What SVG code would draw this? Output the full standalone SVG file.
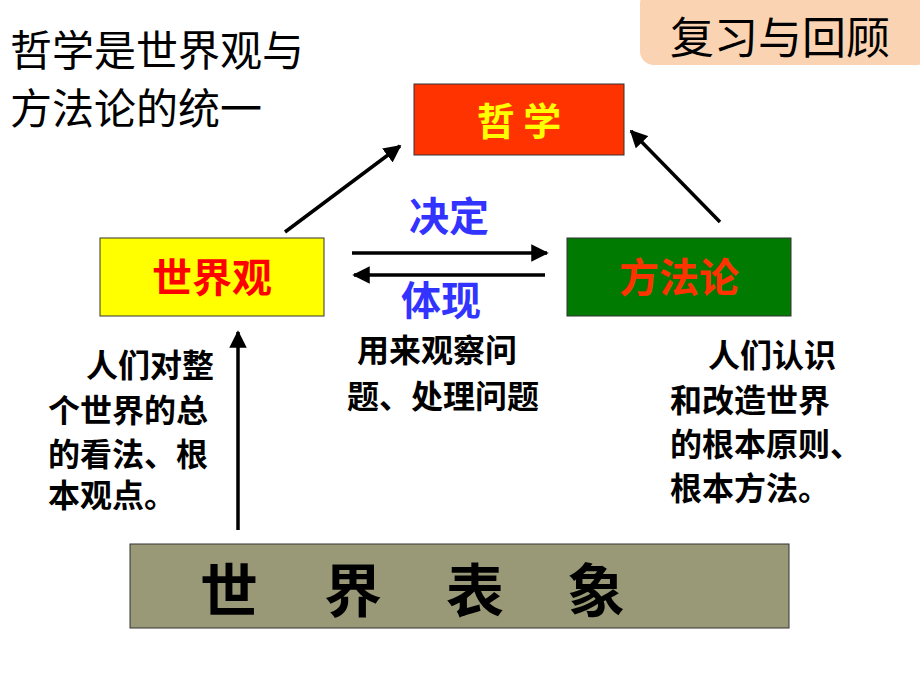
<svg xmlns="http://www.w3.org/2000/svg" width="920" height="690" viewBox="0 0 920 690">
<style>
text{font-family:"Noto Sans CJK SC","Liberation Sans",sans-serif;}
.b{font-weight:bold;}
.box{stroke:#333;stroke-width:1;}
.c{stroke:#000;stroke-width:3.5;fill:none;marker-end:url(#ah);}
.d{font-size:32px;font-weight:bold;fill:#000;}
</style>
<defs><marker id="ah" viewBox="0 0 10 10" refX="9" refY="5" markerWidth="5" markerHeight="5" orient="auto"><path d="M0,0L10,5L0,10z" fill="#000"/></marker></defs>
<rect width="920" height="690" fill="#fff"/>
<g id="title"><text x="10" y="66" font-size="42">哲学是世界观与</text><text x="10" y="124" font-size="42">方法论的统一</text></g>
<g id="review"><rect x="640" y="-10" width="290" height="75" rx="14" fill="#FAD3B2"/><text x="780" y="54" font-size="44" text-anchor="middle">复习与回顾</text></g>
<g id="philosophy"><rect class="box" x="414" y="84" width="210" height="71" fill="#FF3300"/><text class="b" x="519" y="135" font-size="38" fill="#FFFF00" text-anchor="middle">哲 学</text></g>
<g id="worldview"><rect class="box" x="100" y="238" width="224" height="78" fill="#FFFF00"/><text class="b" x="212" y="292" font-size="40" fill="#FF0000" text-anchor="middle">世界观</text></g>
<g id="method"><rect class="box" x="567" y="238" width="224" height="78" fill="#007A00"/><text class="b" x="679" y="292" font-size="40" fill="#FF3300" text-anchor="middle">方法论</text></g>
<g id="phenomena"><rect class="box" x="130" y="544" width="659" height="84" fill="#999977"/><g class="b" font-size="58" fill="#000"><text x="200" y="612">世</text><text x="324" y="612">界</text><text x="446" y="612">表</text><text x="567" y="612">象</text></g></g>
<g id="connectors">
<path class="c" d="M285,232L400,146"/>
<path class="c" d="M720,222L631,131"/>
<path class="c" d="M352,253L547,253"/>
<path class="c" d="M545,275L354,275"/>
<path class="c" d="M238,530L238,332"/>
</g>
<g id="labels">
<text class="b" x="449" y="231" font-size="40" fill="#3333FF" text-anchor="middle">决定</text>
<text class="b" x="441" y="315" font-size="40" fill="#3333FF" text-anchor="middle">体现</text>
<text class="d" x="357" y="362">用来观察问</text>
<text class="d" x="347" y="408">题、处理问题</text>
<text class="d" x="86" y="377">人们对整</text>
<text class="d" x="48" y="422">个世界的总</text>
<text class="d" x="48" y="466">的看法、根</text>
<text class="d" x="48" y="507">本观点。</text>
<text class="d" x="708" y="367">人们认识</text>
<text class="d" x="670" y="412">和改造世界</text>
<text class="d" x="670" y="456">的根本原则、</text>
<text class="d" x="670" y="500">根本方法。</text>
</g>
</svg>
